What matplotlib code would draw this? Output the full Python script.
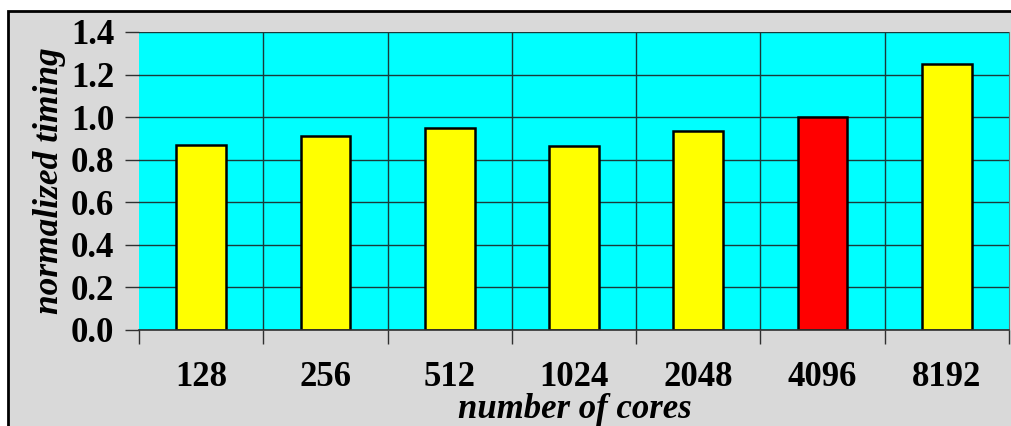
import matplotlib
matplotlib.use("Agg")
import matplotlib.pyplot as plt
from matplotlib.patches import Rectangle

categories = ["128", "256", "512", "1024", "2048", "4096", "8192"]
values = [0.868, 0.910, 0.948, 0.864, 0.934, 1.000, 1.248]
bar_colors = ["#ffff00", "#ffff00", "#ffff00", "#ffff00", "#ffff00", "#ff0000", "#ffff00"]
yticks = [0.0, 0.2, 0.4, 0.6, 0.8, 1.0, 1.2, 1.4]

W, H = 1011, 426
fig = plt.figure(figsize=(W / 100, H / 100), dpi=100, facecolor="white")
# panel background with border (extends past right/bottom edges)
fig.patches.append(Rectangle((8 / W, -0.1), 1.2, 1 - 11 / H + 0.1, transform=fig.transFigure,
                             facecolor="#d9d9d9", edgecolor="black", linewidth=2, zorder=-10))

ax = fig.add_axes([139 / W, 1 - 330 / H, (1009 - 139) / W, (330 - 32) / H])
ax.set_zorder(1)
ax.set_facecolor("#00ffff")
x = list(range(len(categories)))
ax.bar(x, values, width=0.4, color=bar_colors, edgecolor="black", linewidth=1.8, zorder=3)
ax.set_xlim(-0.5, len(categories) - 0.5)
ax.set_ylim(0, 1.4)
ax.set_yticks(yticks)
ax.set_yticklabels([f"{v:.1f}" for v in yticks])
ax.set_xticks(x)
ax.set_xticklabels(categories)
ax.set_xticks([i - 0.5 for i in range(len(categories) + 1)], minor=True)

for v in yticks:
    ax.axhline(v, color="#1a3a3a", linewidth=1.0, zorder=1)
for i in range(1, len(categories)):
    ax.axvline(i - 0.5, color="#1a3a3a", linewidth=1.0, zorder=1)

for s in ["top", "left"]:
    ax.spines[s].set_visible(False)
ax.spines["right"].set_color("#707070")
ax.spines["bottom"].set_color("#303030")
ax.spines["bottom"].set_linewidth(1.2)
ax.spines["bottom"].set_zorder(4)

font = dict(family="Liberation Serif", weight="bold")
ax.tick_params(axis="x", which="major", length=0, pad=22)
ax.tick_params(axis="x", which="minor", length=10, width=1, color="#303030")
ax.tick_params(axis="y", length=10, width=1, color="#303030", pad=8)
for lab in ax.get_xticklabels() + ax.get_yticklabels():
    lab.set_fontfamily("Liberation Serif")
    lab.set_fontweight("bold")
    lab.set_fontsize(25)

fig.text(575 / W, 1 - 410 / H, "number of cores", ha="center", va="center",
         fontsize=25, style="italic", **font)
fig.text(49 / W, 1 - 181 / H, "normalized timing", ha="center", va="center",
         rotation=90, fontsize=25.5, style="italic", **font)

fig.savefig("out.png", dpi=100, facecolor=fig.get_facecolor())
